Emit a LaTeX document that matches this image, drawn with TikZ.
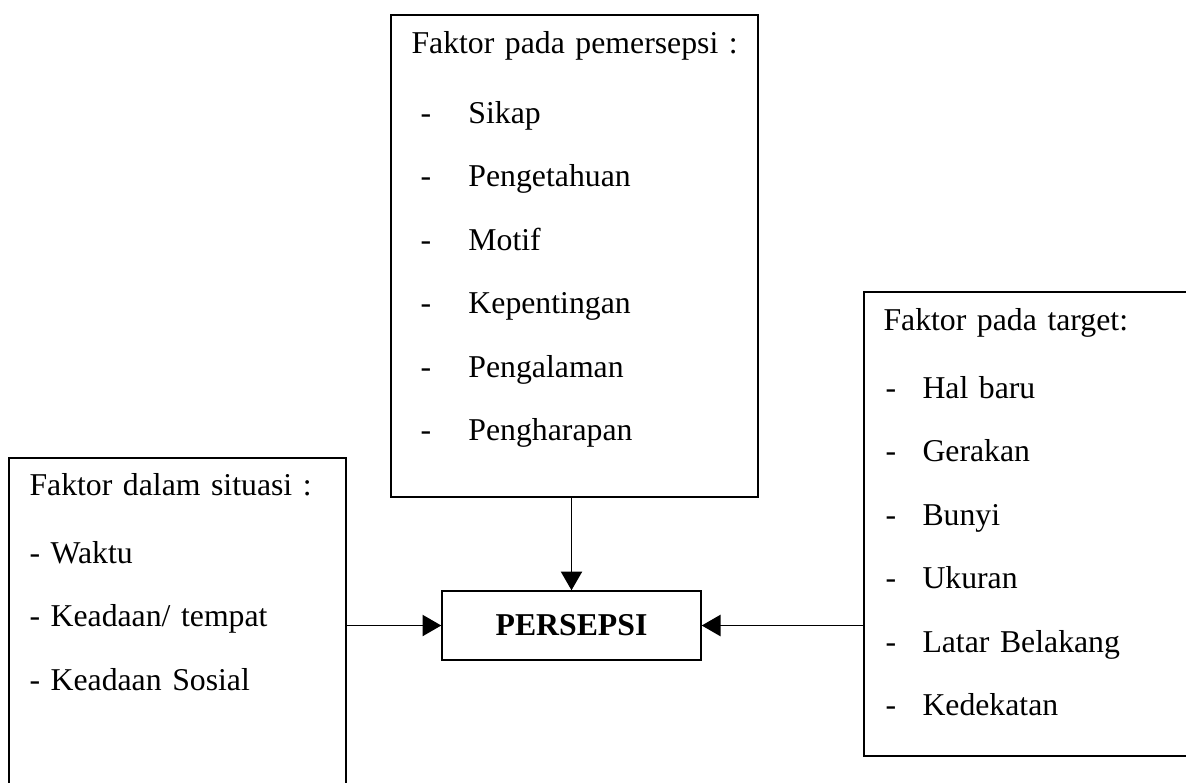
\documentclass[tikz,border=0pt]{standalone}
\usepackage{fontspec}
\setmainfont[WordSpace=0.75]{Liberation Serif}
\usetikzlibrary{arrows.meta, positioning}
\newcommand{\ditem}[3]{\hspace*{#1}\makebox[#2][l]{-}#3}

\begin{document}
\begin{tikzpicture}[
    x=0.4pt, y=-0.4pt,
    box/.style={draw, semithick, anchor=north west, inner sep=0pt},
    txt/.style={anchor=base west, inner sep=0pt, align=left,
                font=\fontsize{12.7}{25.4}\selectfont},
    arr/.style={-{Triangle[length=7.5pt, width=8.5pt]}, semithick}
  ]
  \clip (0,0) rectangle (1186,782);
  \fill[white] (0,0) rectangle (1186,782);

  % faktor pada pemersepsi
  \node[box, minimum width=146.8pt, minimum height=192.8pt] (pem) at (390,14) {};
  \node[txt, text width=140pt] (pemtxt) at (411,53) {%
    Faktor pada pemersepsi :\\[2.6pt]
    \ditem{3.6pt}{19.2pt}{Sikap}\\
    \ditem{3.6pt}{19.2pt}{Pengetahuan}\\
    \ditem{3.6pt}{19.2pt}{Motif}\\
    \ditem{3.6pt}{19.2pt}{Kepentingan}\\
    \ditem{3.6pt}{19.2pt}{Pengalaman}\\
    \ditem{3.6pt}{19.2pt}{Pengharapan}
  };

  % faktor dalam situasi
  \node[box, minimum width=134.8pt, minimum height=137.2pt] (sit) at (8,457) {};
  \node[txt, text width=130pt] (sittxt) at (29,495) {%
    Faktor dalam situasi :\\[1.8pt]
    - Waktu\\
    - Keadaan/ tempat\\
    - Keadaan Sosial
  };

  % faktor pada target
  \node[box, minimum width=134.8pt, minimum height=185.6pt] (tgt) at (863,291) {};
  \node[txt, text width=130pt] (tgttxt) at (883,330) {%
    Faktor pada target:\\[1.8pt]
    \ditem{0.8pt}{14.8pt}{Hal baru}\\
    \ditem{0.8pt}{14.8pt}{Gerakan}\\
    \ditem{0.8pt}{14.8pt}{Bunyi}\\
    \ditem{0.8pt}{14.8pt}{Ukuran}\\
    \ditem{0.8pt}{14.8pt}{Latar Belakang}\\
    \ditem{0.8pt}{14.8pt}{Kedekatan}
  };

  % persepsi
  \node[draw, semithick, minimum width=103.6pt, minimum height=27.6pt,
        font=\fontsize{12.7}{15}\selectfont\bfseries] (per) at (571.5,625.5) {PERSEPSI};

  \draw[arr] (per.north |- pem.south) -- (per.north);
  \draw[arr] (sit.east |- per.west) -- (per.west);
  \draw[arr] (tgt.west |- per.east) -- (per.east);

\end{tikzpicture}
\end{document}
